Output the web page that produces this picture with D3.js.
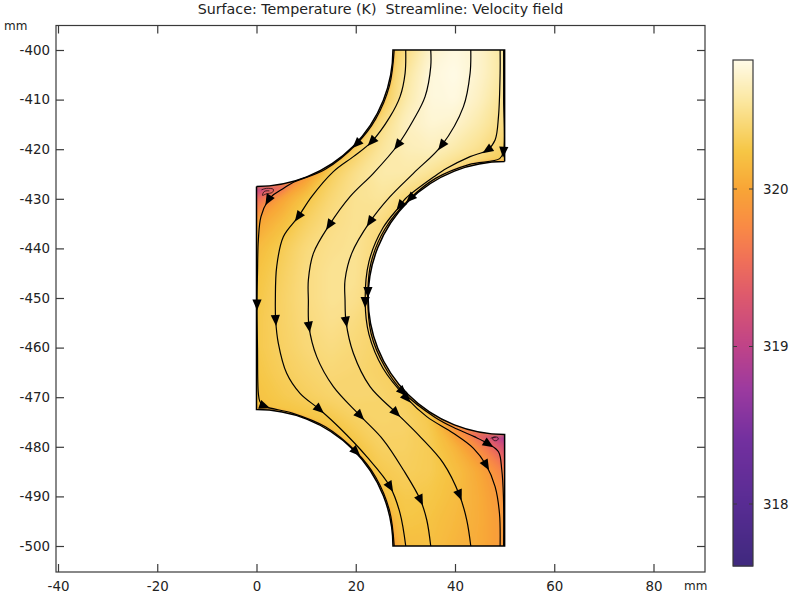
<!DOCTYPE html>
<html>
<head>
<meta charset="utf-8">
<title>Surface: Temperature (K)  Streamline: Velocity field</title>
<script src="https://d3js.org/d3.v7.min.js"></script>
<style>
    html, body { margin: 0; background: #fff; }
    svg { display: block; }
    text { font-family: "DejaVu Sans"; font-size: 13.4px; fill: #222; }
    .frame { fill: none; stroke: #3a3a3a; stroke-width: 1.2; }
    .streamline { fill: none; stroke: #000; stroke-width: 1.2; }
    .swirl { fill: none; stroke: #000; stroke-width: 0.7; }
    .outline { fill: none; stroke: #000; stroke-width: 1.5; }
</style>
</head>
<body>
<script>
// axis ticks
var xTicks = [-40, -20, 0, 20, 40, 60, 80];
var yTicks = [-400, -410, -420, -430, -440, -450, -460, -470, -480, -490, -500];
var barTicks = [318, 319, 320];

// colour table
var tempStops = [317.62, 318, 318.41, 318.73, 319, 319.33, 319.55, 319.76, 320, 320.24, 320.56, 320.82];
var tempColors = ["#40297f", "#582c93", "#73309f", "#9c3a9f", "#bf4388", "#de5a6c", "#f07058", "#f98a45", "#f8a536", "#f6c645", "#fbe7a0", "#fffbe8"];

// geometry (mm)
var radius = 27.5;

// temperature (K) estimated every 5 mm: one row per y, x = 0, 5, ... 50
var gridXs = [0, 5, 10, 15, 20, 25, 30, 35, 40, 45, 50];
var gridYs = [-400, -405, -410, -415, -420, -425, -430, -435, -440, -445, -450, -455, -460, -465, -470, -475, -480, -485, -490, -495, -500];
var tempGrid = [
    [320.1, 320.1, 320.1, 320.1, 320.1, 320.2, 320.45, 320.72, 320.8, 320.72, 320.55],
    [320.1, 320.1, 320.1, 320.1, 320.1, 320.2, 320.55, 320.78, 320.82, 320.72, 320.55],
    [320.0, 320.0, 320.0, 320.0, 320.0, 320.25, 320.6, 320.78, 320.8, 320.68, 320.5],
    [319.9, 319.9, 319.9, 320.0, 320.2, 320.45, 320.68, 320.75, 320.72, 320.6, 320.45],
    [319.5, 319.6, 319.9, 320.05, 320.35, 320.55, 320.65, 320.68, 320.6, 320.5, 320.35],
    [318.2, 318.9, 319.9, 320.33, 320.5, 320.6, 320.6, 320.52, 320.4, 320.3, 320.3],
    [319.5, 320.0, 320.25, 320.42, 320.52, 320.55, 320.42, 320.3, 320.3, 320.3, 320.3],
    [320.0, 320.18, 320.36, 320.47, 320.52, 320.45, 320.3, 320.3, 320.3, 320.3, 320.3],
    [320.16, 320.3, 320.44, 320.5, 320.52, 320.42, 320.3, 320.3, 320.3, 320.3, 320.3],
    [320.22, 320.34, 320.46, 320.52, 320.52, 320.38, 320.3, 320.3, 320.3, 320.3, 320.3],
    [320.25, 320.36, 320.46, 320.52, 320.5, 320.38, 320.3, 320.3, 320.3, 320.3, 320.3],
    [320.27, 320.36, 320.44, 320.5, 320.45, 320.37, 320.3, 320.3, 320.3, 320.3, 320.3],
    [320.27, 320.35, 320.42, 320.46, 320.42, 320.37, 320.3, 320.3, 320.3, 320.3, 320.3],
    [320.25, 320.32, 320.38, 320.42, 320.4, 320.36, 320.33, 320.3, 320.25, 320.15, 320.0],
    [320.22, 320.28, 320.33, 320.38, 320.4, 320.39, 320.33, 320.2, 319.95, 319.7, 319.5],
    [320.15, 320.2, 320.22, 320.25, 320.34, 320.38, 320.37, 320.28, 319.75, 319.0, 318.2],
    [320.1, 320.1, 320.1, 320.15, 320.24, 320.35, 320.35, 320.3, 320.12, 319.75, 319.2],
    [320.1, 320.1, 320.1, 320.1, 320.18, 320.28, 320.33, 320.3, 320.2, 320.03, 319.7],
    [320.0, 320.0, 320.0, 320.0, 320.05, 320.2, 320.28, 320.26, 320.18, 320.06, 319.85],
    [319.9, 319.9, 319.9, 319.9, 319.9, 320.0, 320.25, 320.22, 320.15, 320.06, 319.9],
    [319.7, 319.7, 319.7, 319.7, 319.7, 319.75, 320.18, 320.2, 320.12, 320.05, 319.9]
];

// streamlines (mm)
var line0 = [[27.75, -400], [26.8, -407.18], [24.03, -413.88], [20.2, -418.9], [13.88, -424.03], [7.18, -426.8], [5.4, -427.9], [3.39, -429.2], [2.38, -430.24], [0.9, -433.6], [0.37, -438.3], [0.2, -445], [0.1, -451.3], [0.2, -460], [0.37, -469.2], [0.7, -470.9], [1.6, -471.8], [7.18, -473.2], [13.88, -475.97], [20.06, -481], [24.03, -486.13], [26.8, -492.82], [27.75, -500]];
var line1 = [[30.07, -400], [29.94, -404.7], [28.93, -409.4], [26.91, -413.44], [23.22, -418.48], [19.52, -421.5], [15.49, -424.53], [11.12, -429.57], [8.43, -433.6], [5.41, -437.63], [4.07, -443.68], [3.8, -450.4], [3.86, -454.43], [4.4, -459.14], [6.08, -465.18], [8.77, -469.22], [12.67, -472.44], [16.83, -476.27], [22.21, -481.99], [26.91, -488.03], [28.93, -493.41], [30.07, -500]];
var line2 = [[35.11, -400], [35.11, -403.36], [33.97, -409.4], [31.62, -414.11], [28.46, -419.15], [23.55, -424.86], [18.85, -429.57], [14.68, -435.28], [11.46, -441], [10.45, -446.37], [10.45, -450.4], [10.58, -455.78], [12.13, -461.82], [15.49, -467.87], [20.87, -473.72], [25.57, -478.63], [29.6, -484.67], [33.03, -490.72], [34.31, -494.76], [35.11, -500]];
var line3 = [[43.18, -400], [43.04, -404.7], [41.7, -411.42], [37.33, -419.22], [31.62, -424.86], [26.91, -429.57], [22.88, -434.61], [19.19, -441], [17.84, -446.37], [17.84, -450.4], [18.04, -454.77], [19.52, -461.15], [22.88, -467.87], [28.12, -473.12], [32.96, -477.95], [37.67, -483.33], [40.89, -489.71], [42.37, -494.76], [43.18, -500]];
var line4 = [[49.09, -400], [49.09, -404.7], [48.76, -413.44], [48.08, -418.14], [46.54, -420.16], [43.04, -421.5], [38.34, -423.85], [35.85, -425.49], [29.99, -429.99], [28.93, -431.4], [25.49, -435.85], [22.66, -442.68], [21.9, -450.8], [22.66, -457.32], [25.49, -464.15], [30.27, -470.2], [34.31, -473.92], [39.68, -477.28], [43.72, -480.31], [46.27, -483.67], [48.08, -488.03], [48.96, -493.41], [49.09, -500]];
var line5 = [[49.8, -400], [49.8, -410], [49.76, -420.5], [49, -421.9], [42.79, -423.1], [36.08, -425.88], [31, -429.9], [25.88, -436.08], [23.1, -442.79], [22.45, -448.8], [23.1, -457.21], [25.88, -463.92], [29.47, -468.9], [36.08, -474.12], [40.39, -476.41], [44, -478], [46.74, -479.43], [48.76, -481], [49.43, -484.67], [49.76, -490], [49.8, -500]];
var streamlines = [line0, line1, line2, line3, line4, line5];

// which point of each streamline carries an arrow head
var arrows0 = [3, 8, 12, 16, 19];
var arrows1 = [4, 8, 12, 16, 19];
var arrows2 = [4, 7, 11, 14, 17];
var arrows3 = [3, 6, 10, 13, 16];
var arrows4 = [4, 9, 12, 15, 19];
var arrows5 = [2, 6, 9, 12, 16];
var arrowIndex = [arrows0, arrows1, arrows2, arrows3, arrows4, arrows5];

// small eddies in the two corners
var swirl1 = [[1, -428.2], [2, -427.9], [3.4, -428.1], [3.2, -428.7], [2, -429], [1.2, -429.3], [1.6, -428.5], [2.6, -428.4]];
var swirl2 = [[47.2, -478.3], [48, -478], [48.7, -478.2], [48.5, -478.7], [47.8, -478.7], [47.6, -478.2], [48.2, -478.1]];

var width = 790, height = 596;
var plot = {left: 56, right: 705, top: 25.5, bottom: 572};
var bar = {left: 733, right: 753, top: 60, bottom: 566};

var x = d3.scaleLinear().domain([-40, 80]).range([58, 653.5]);
var y = d3.scaleLinear().domain([-400, -500]).range([50, 546]);
var barY = d3.scaleLinear().domain([318, 320]).range([504, 189]);
var color = d3.scaleLinear().domain(tempStops).range(tempColors).clamp(true);

var svg = d3.select("body").append("svg").attr("width", width).attr("height", height);
var defs = svg.append("defs");
defs.append("filter").attr("id", "soft").attr("filterUnits", "userSpaceOnUse")
    .attr("x", 0).attr("y", 0).attr("width", width).attr("height", height)
    .append("feGaussianBlur").attr("stdDeviation", 3);
defs.append("filter").attr("id", "edge").attr("filterUnits", "userSpaceOnUse")
    .attr("x", 0).attr("y", 0).attr("width", width).attr("height", height)
    .append("feGaussianBlur").attr("stdDeviation", 1.5);

// part outline
var r = x(radius) - x(0);
function outlinePath() {
    var p = d3.path();
    p.moveTo(x(radius), y(-400));
    p.lineTo(x(50), y(-400));
    p.lineTo(x(50), y(-450 + radius));
    p.arc(x(50), y(-450), r, -Math.PI / 2, Math.PI / 2, true);
    p.lineTo(x(50), y(-500));
    p.lineTo(x(radius), y(-500));
    p.arc(x(0), y(-500), r, 0, -Math.PI / 2, true);
    p.lineTo(x(0), y(-400 - radius));
    p.arc(x(0), y(-400), r, Math.PI / 2, 0, true);
    p.closePath();
    return p.toString();
}
function arcsPath() {
    var p = d3.path();
    p.moveTo(x(50), y(-450 + radius));
    p.arc(x(50), y(-450), r, -Math.PI / 2, Math.PI / 2, true);
    p.moveTo(x(radius), y(-500));
    p.arc(x(0), y(-500), r, 0, -Math.PI / 2, true);
    p.moveTo(x(0), y(-400 - radius));
    p.arc(x(0), y(-400), r, Math.PI / 2, 0, true);
    return p.toString();
}
defs.append("clipPath").attr("id", "part").append("path").attr("d", outlinePath());

// temperature surface
var values = d3.merge(tempGrid);
var levels = d3.range(317.6, 320.84, 0.015);
var contours = d3.contours().size([gridXs.length, gridYs.length]).thresholds(levels).smooth(true)(values);
var project = d3.geoTransform({
    point: function(cx, cy) {
        this.stream.point(x(gridXs[0] + (cx - 0.5) * 5), y(gridYs[0] - (cy - 0.5) * 5));
    }
});
var geoPath = d3.geoPath(project);
var surface = svg.append("g").attr("clip-path", "url(#part)");
surface.append("g").attr("filter", "url(#soft)")
    .selectAll("path").data(contours).join("path")
    .attr("d", geoPath)
    .attr("fill", function(d) { return color(d.value); });
surface.append("path")
    .attr("d", arcsPath())
    .attr("fill", "none")
    .attr("stroke", "#f59a3a")
    .attr("stroke-opacity", 0.75)
    .attr("stroke-width", 3)
    .attr("filter", "url(#edge)");

// streamlines and arrow heads
var line = d3.line()
    .x(function(d) { return x(d[0]); })
    .y(function(d) { return y(d[1]); })
    .curve(d3.curveCatmullRom.alpha(0.5));
svg.append("g").selectAll("path").data(streamlines).join("path")
    .attr("class", "streamline")
    .attr("d", line);
svg.append("g").selectAll("path").data([swirl1, swirl2]).join("path")
    .attr("class", "swirl")
    .attr("d", line);

var arrowPoints = [];
streamlines.forEach(function(pts, i) {
    arrowIndex[i].forEach(function(k) {
        var a = pts[k - 1], b = pts[k + 1];
        arrowPoints.push({
            px: x(pts[k][0]),
            py: y(pts[k][1]),
            angle: Math.atan2(y(b[1]) - y(a[1]), x(b[0]) - x(a[0])) * 180 / Math.PI
        });
    });
});
svg.append("g").selectAll("path").data(arrowPoints).join("path")
    .attr("d", "M6,0L-5,-4.6L-5,4.6Z")
    .attr("fill", "#000")
    .attr("transform", function(d) { return "translate(" + d.px + "," + d.py + ") rotate(" + d.angle + ")"; });

svg.append("path").attr("class", "outline").attr("d", outlinePath());

// axes, ticks on all four sides of the frame, labels left and below
var tickLen = 8;
function style(g) {
    g.select(".domain").remove();
    g.selectAll(".tick line").attr("stroke", "#3a3a3a").attr("stroke-width", 1.2);
}
svg.append("g").attr("transform", "translate(0," + plot.bottom + ")")
    .call(d3.axisBottom(x).tickValues(xTicks).tickSize(-tickLen).tickPadding(9).tickFormat(String))
    .call(style);
svg.append("g").attr("transform", "translate(0," + plot.top + ")")
    .call(d3.axisTop(x).tickValues(xTicks).tickSize(-tickLen).tickFormat(""))
    .call(style);
svg.append("g").attr("transform", "translate(" + plot.left + ",0)")
    .call(d3.axisLeft(y).tickValues(yTicks).tickSize(-tickLen).tickPadding(6).tickFormat(String))
    .call(style);
svg.append("g").attr("transform", "translate(" + plot.right + ",0)")
    .call(d3.axisRight(y).tickValues(yTicks).tickSize(-tickLen).tickFormat(""))
    .call(style);
svg.selectAll(".tick text").style("font-family", '"DejaVu Sans"').style("font-size", "13.4px").attr("fill", "#222");
svg.append("rect").attr("class", "frame")
    .attr("x", plot.left).attr("y", plot.top)
    .attr("width", plot.right - plot.left).attr("height", plot.bottom - plot.top);

// titles and units
svg.append("text").attr("x", 380.5).attr("y", 14).attr("text-anchor", "middle")
    .style("font-size", "14.25px")
    .text("Surface: Temperature (K)  Streamline: Velocity field").attr("xml:space", "preserve");
svg.append("text").attr("x", 4).attr("y", 30).style("font-size", "12px").text("mm");
svg.append("text").attr("x", 684).attr("y", 590).style("font-size", "12px").text("mm");

// colour bar
var barSteps = d3.range(bar.top, bar.bottom);
svg.append("g").selectAll("rect").data(barSteps).join("rect")
    .attr("x", bar.left).attr("width", bar.right - bar.left)
    .attr("y", function(d) { return d; }).attr("height", 1.5)
    .attr("fill", function(d) { return color(barY.invert(d + 0.5)); });
svg.append("rect").attr("class", "frame")
    .attr("x", bar.left).attr("y", bar.top)
    .attr("width", bar.right - bar.left).attr("height", bar.bottom - bar.top);
var barTickG = svg.append("g").selectAll("g").data(barTicks).join("g")
    .attr("transform", function(d) { return "translate(0," + barY(d) + ")"; });
barTickG.append("line").attr("x1", bar.left).attr("x2", bar.left + 4).attr("stroke", "#3a3a3a");
barTickG.append("line").attr("x1", bar.right - 4).attr("x2", bar.right).attr("stroke", "#3a3a3a");
barTickG.append("text").attr("x", 763).attr("dy", "0.36em").text(String);
</script>
</body>
</html>
